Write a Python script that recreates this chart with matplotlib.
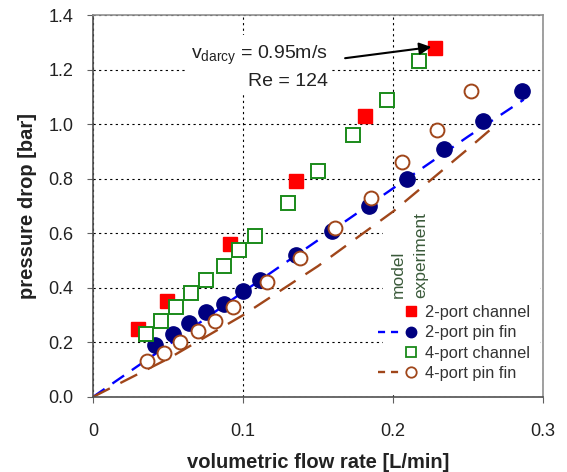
import numpy as np
import matplotlib.pyplot as plt
from matplotlib.lines import Line2D
from matplotlib.legend_handler import HandlerTuple
from matplotlib.patches import Rectangle

plt.rcParams["font.family"] = ["Liberation Sans", "DejaVu Sans"]
plt.rcParams["mathtext.fontset"] = "custom"
plt.rcParams["mathtext.rm"] = "Liberation Sans"
plt.rcParams["mathtext.it"] = "Liberation Sans"

# ── experiment data ───────────────────────────────────────────────────────────
ch2_x = [0.030, 0.049, 0.091, 0.135, 0.181, 0.228]
ch2_y = [0.25, 0.35, 0.56, 0.79, 1.03, 1.28]

ch4_x = [0.035, 0.045, 0.055, 0.065, 0.075, 0.087, 0.097, 0.108,
         0.130, 0.150, 0.173, 0.196, 0.217]
ch4_y = [0.23, 0.28, 0.33, 0.38, 0.43, 0.48, 0.54, 0.59,
         0.71, 0.83, 0.96, 1.09, 1.23]

pin2_x = [0.041, 0.053, 0.064, 0.075, 0.087, 0.100, 0.111, 0.135,
          0.159, 0.184, 0.209, 0.234, 0.260, 0.286]
pin2_y = [0.19, 0.23, 0.27, 0.31, 0.34, 0.39, 0.43, 0.52,
          0.61, 0.70, 0.80, 0.91, 1.01, 1.12]

pin4_x = [0.036, 0.047, 0.058, 0.070, 0.081, 0.093, 0.116, 0.138,
          0.161, 0.185, 0.206, 0.229, 0.252]
pin4_y = [0.13, 0.16, 0.20, 0.24, 0.28, 0.33, 0.42, 0.51,
          0.62, 0.73, 0.86, 0.98, 1.12]

# ── model curves ─────────────────────────────────────────────────────────────
mod2_x = [0, 0.05, 0.10, 0.15, 0.20, 0.25, 0.287]
mod2_y = [0, 0.19, 0.385, 0.575, 0.765, 0.955, 1.09]

mod4_x = [0, 0.05, 0.10, 0.15, 0.20, 0.25, 0.269]
mod4_y = [0, 0.14, 0.30, 0.48, 0.68, 0.91, 1.00]

x_ticks = [0, 0.1, 0.2, 0.3]
x_labels = ["0", "0.1", "0.2", "0.3"]
y_ticks = [0.0, 0.2, 0.4, 0.6, 0.8, 1.0, 1.2, 1.4]

RED = "#ff0000"
NAVY = "#000080"
GREEN = "#1a8a1a"
BROWN = "#a0461a"
BLUE = "#0000ff"
TXT = "#222222"

fig = plt.figure(figsize=(5.67, 4.72), dpi=100)
ax = fig.add_axes([0.164, 0.159, 0.794, 0.809])

ax.plot(mod2_x, mod2_y, color=BLUE, lw=1.7, ls=(0, (6, 4)), zorder=2)
ax.plot(mod4_x, mod4_y, color=BROWN, lw=1.7, ls=(0, (8, 5)), zorder=2)

ax.plot(ch2_x, ch2_y, "s", color=RED, ms=10.5, mec=RED, zorder=3)
ax.plot(ch4_x, ch4_y, "s", mfc="white", mec=GREEN, ms=9.5, mew=1.4, zorder=4)
ax.plot(pin2_x, pin2_y, "o", color=NAVY, ms=11, mec=NAVY, zorder=3)
ax.plot(pin4_x, pin4_y, "o", mfc="white", mec=BROWN, ms=10, mew=1.4, zorder=4)

ax.set_xlim(0, 0.3)
ax.set_ylim(0, 1.4)
ax.set_xticks(x_ticks)
ax.set_xticklabels(x_labels)
ax.set_yticks(y_ticks)
ax.set_yticklabels([f"{v:.1f}" for v in y_ticks])
ax.tick_params(axis="x", direction="out", length=4, pad=15, labelsize=13,
               colors="#606060", labelcolor=TXT)
ax.tick_params(axis="y", direction="out", length=4, pad=10, labelsize=13,
               colors="#606060", labelcolor=TXT)

ax.set_axisbelow(True)
ax.grid(True, color="black", lw=0.8, ls=(0, (2, 3)))

for side in ["left", "bottom"]:
    ax.spines[side].set_color("#505050")
    ax.spines[side].set_linewidth(1.2)
for side in ["top", "right"]:
    ax.spines[side].set_color("#909090")
    ax.spines[side].set_linewidth(1.2)

ax.set_xlabel("volumetric flow rate [L/min]", fontsize=14.5, fontweight="bold",
              color=TXT, labelpad=9)
ax.set_ylabel("pressure drop [bar]", fontsize=14.5, fontweight="bold",
              color=TXT, labelpad=8)

# white patch behind legend block (hides grid there)
ax.add_patch(Rectangle((0.644, 0.013), 0.35, 0.47, transform=ax.transAxes,
                       facecolor="white", edgecolor="none", zorder=1))

# annotation
ax.text(0.1565, 1.21, "v$_{\\mathrm{darcy}}$ = 0.95m/s\nRe = 124",
        ha="right", va="center", multialignment="right", fontsize=14,
        color=TXT, linespacing=1.5, zorder=5,
        bbox=dict(facecolor="white", edgecolor="none", pad=3))
ax.annotate("", xy=(0.2255, 1.283), xytext=(0.168, 1.242),
            arrowprops=dict(arrowstyle="-|>", color="black", lw=1.5,
                            mutation_scale=18, shrinkA=0, shrinkB=0),
            zorder=6)

# legend
blank = Line2D([], [], ls="none")
h_ch2 = (blank, Line2D([], [], ls="none", marker="s", color=RED, ms=7.5))
h_pin2 = (Line2D([], [], color=BLUE, lw=1.7, ls=(0, (3, 2.5))),
          Line2D([], [], ls="none", marker="o", color=NAVY, ms=7.5))
h_ch4 = (blank, Line2D([], [], ls="none", marker="s", mfc="white", mec=GREEN,
                       ms=7.5, mew=1.3))
h_pin4 = (Line2D([], [], color=BROWN, lw=1.7, ls=(0, (3, 2.5))),
          Line2D([], [], ls="none", marker="o", mfc="white", mec=BROWN,
                 ms=7.5, mew=1.3))
leg = ax.legend([h_ch2, h_pin2, h_ch4, h_pin4],
                ["2-port channel", "2-port pin fin", "4-port channel", "4-port pin fin"],
                handler_map={tuple: HandlerTuple(ndivide=None, pad=0)},
                loc="lower right", bbox_to_anchor=(0.99, 0.02),
                frameon=False, fontsize=11.8, handlelength=2.7,
                handletextpad=0.2, labelspacing=0.33, borderpad=0)
for t in leg.get_texts():
    t.set_color("#333333")
leg.set_zorder(6)

ax.text(0.679, 0.258, "model", rotation=90, transform=ax.transAxes,
        ha="center", va="bottom", fontsize=12.5, color="#3a5a3a", zorder=6)
ax.text(0.727, 0.258, "experiment", rotation=90, transform=ax.transAxes,
        ha="center", va="bottom", fontsize=12.5, color="#3a5a3a", zorder=6)

fig.savefig("out.png", dpi=100)
